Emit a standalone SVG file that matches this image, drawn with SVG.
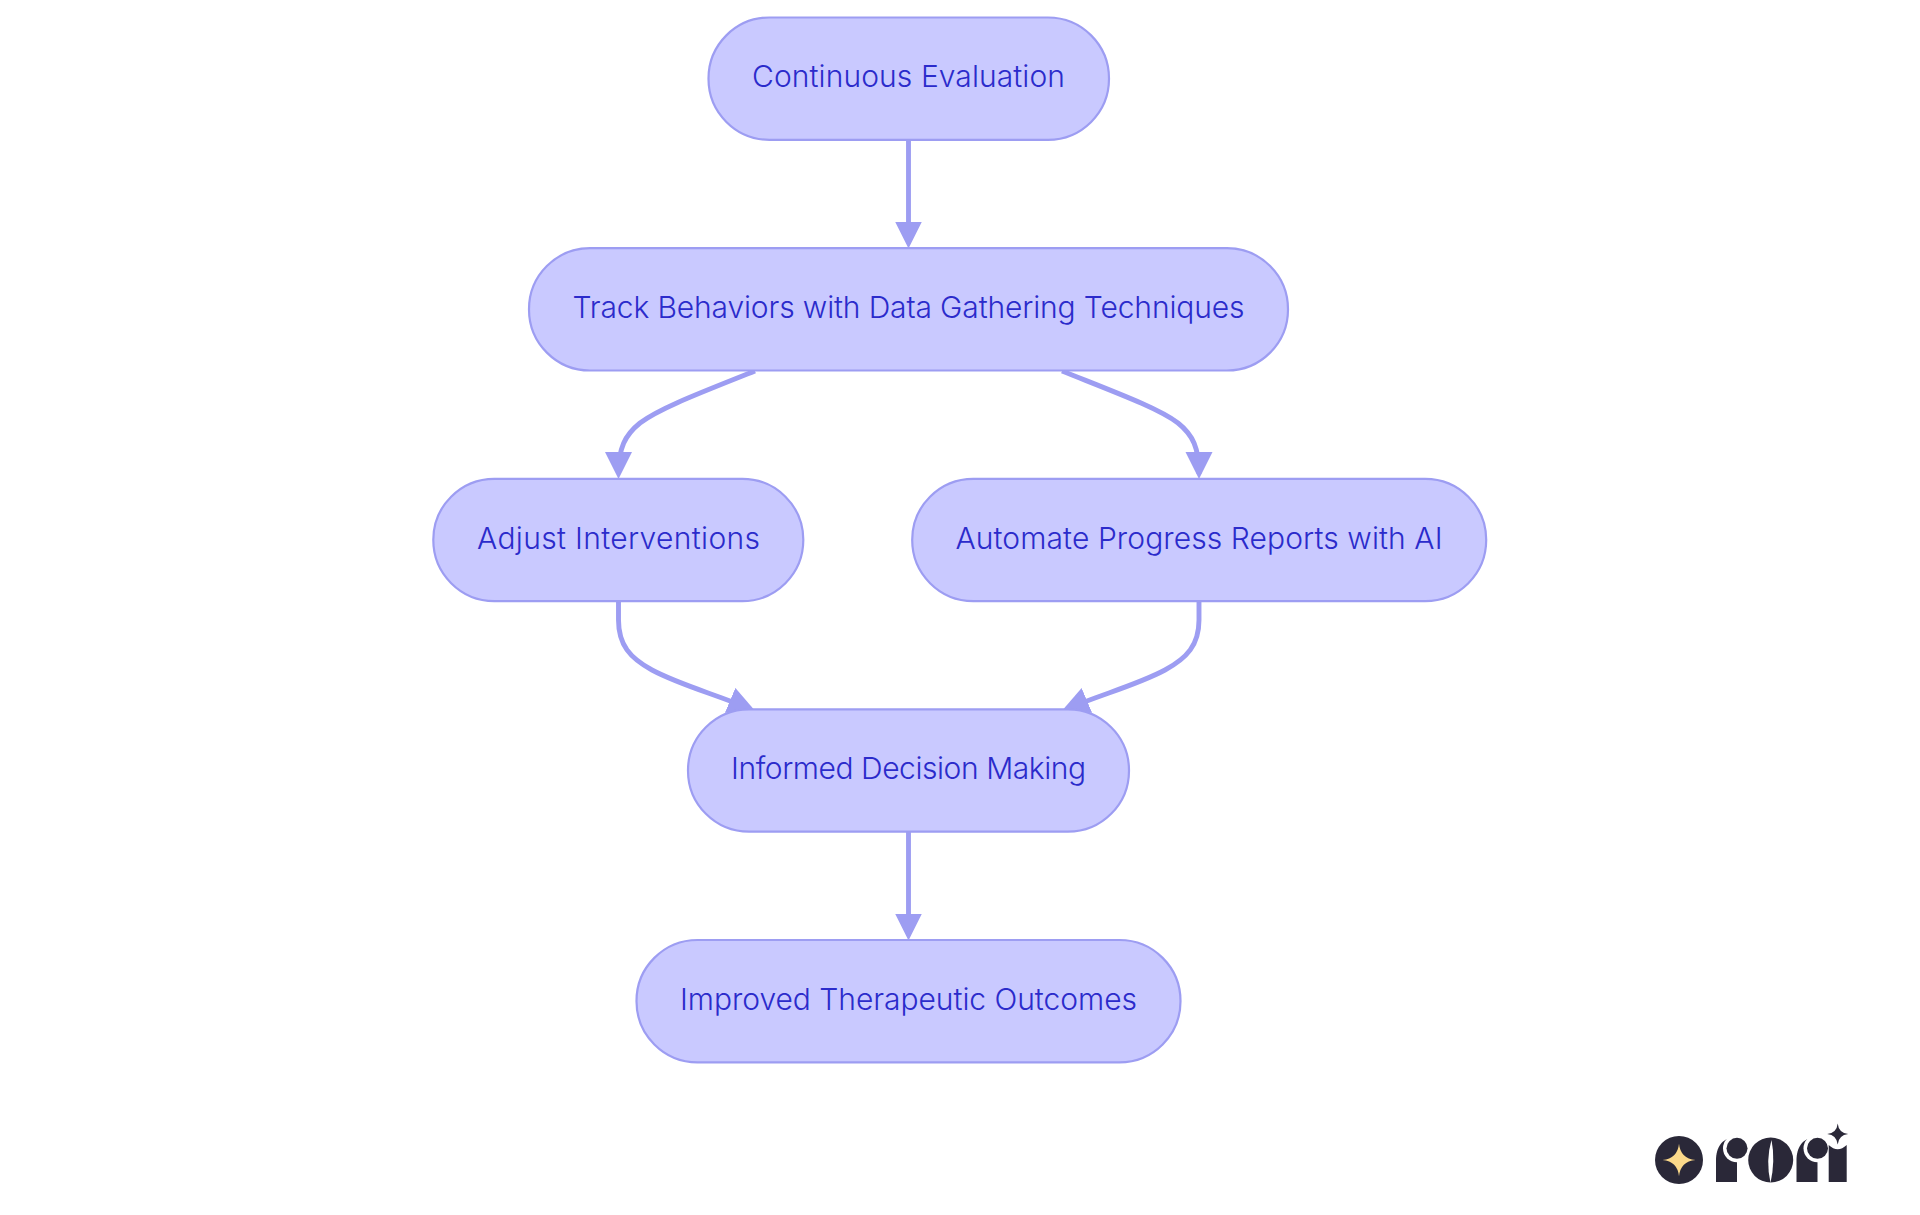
<svg xmlns="http://www.w3.org/2000/svg" width="1920" height="1215" viewBox="0 0 1920 1215">
<defs>
<style>
.n{fill:#c9c9ff;stroke:#9d9df2;stroke-width:2.2}
.t{font-family:"Inter","Noto Sans",sans-serif;font-size:30px;font-weight:300;fill:#2b2bcb;text-anchor:middle}
.e{fill:none;stroke:#9d9df2;stroke-width:4.9;marker-end:url(#ah)}
.k{fill:#2a2838}
.w{fill:#fff}
</style>
<marker id="ah" markerUnits="userSpaceOnUse" markerWidth="28" markerHeight="28" refX="22" refY="13.500" orient="auto">
<path d="M0 0L27 13.500L0 27Z" fill="#9d9df2"/>
</marker>
</defs>
<rect width="1920" height="1215" fill="#fff"/>
<g id="connectors">
<path class="e" d="M908.500 140V243.500"/>
<path class="e" d="M755 371C700 393 660 408 640 423C625 435 618.500 448 618.500 474"/>
<path class="e" d="M1062 371C1117 393 1158 408 1178 423C1193 435 1199 448 1199 474"/>
<path class="e" d="M618.500 601V620C618.500 645 630 658 652 670C680 685 715 694 750.400 708.900"/>
<path class="e" d="M1199 601V620C1199 645 1187 658 1165 670C1137 685 1102 694 1066.600 708.900"/>
<path class="e" d="M908.500 831V935.500"/>
</g>
<g id="n1"><rect class="n" x="708.500" y="17.500" width="400.500" height="122.300" rx="61" ry="61"/><text class="t" x="908.500" y="87" textLength="313">Continuous Evaluation</text></g>
<g id="n2"><rect class="n" x="529" y="248.200" width="759" height="122.300" rx="61" ry="61"/><text class="t" x="908.500" y="317.500" textLength="672">Track Behaviors with Data Gathering Techniques</text></g>
<g id="n3"><rect class="n" x="433.300" y="478.800" width="370" height="122.300" rx="61" ry="61"/><text class="t" x="618.500" y="548.500" textLength="283">Adjust Interventions</text></g>
<g id="n4"><rect class="n" x="912.200" y="478.800" width="574" height="122.300" rx="61" ry="61"/><text class="t" x="1199" y="548.500" textLength="487">Automate Progress Reports with AI</text></g>
<g id="n5"><rect class="n" x="688" y="709.400" width="441" height="122.300" rx="61" ry="61"/><text class="t" x="908.500" y="778.500" textLength="355">Informed Decision Making</text></g>
<g id="n6"><rect class="n" x="636.500" y="940" width="544" height="122.300" rx="61" ry="61"/><text class="t" x="908.500" y="1009.500" textLength="457">Improved Therapeutic Outcomes</text></g>
<g id="logo">
<circle class="k" cx="1679" cy="1160" r="24"/>
<path fill="#fbd98a" d="M1679 1143.700Q1680.500 1158.500 1695.500 1160Q1680.500 1161.500 1679 1176.300Q1677.500 1161.500 1662.500 1160Q1677.500 1158.500 1679 1143.700Z"/>
<path class="k" d="M1716 1182V1160C1716 1148 1722 1138 1733 1138H1737V1182Z"/>
<circle class="w" cx="1737" cy="1148.300" r="14"/>
<circle class="k" cx="1737" cy="1148.300" r="10.500"/>
<circle class="k" cx="1770.700" cy="1160" r="22.500"/>
<path class="w" d="M1771.500 1140Q1765.500 1160 1770.500 1183Q1775.500 1160 1771.500 1140Z"/>
<path class="k" d="M1796.500 1182V1160C1796.500 1148 1802.500 1138 1813.500 1138H1817.500V1182Z"/>
<circle class="w" cx="1817.500" cy="1148.300" r="14"/>
<circle class="k" cx="1817.500" cy="1148.300" r="10.500"/>
<path class="k" d="M1828.700 1182V1145Q1837.700 1153.500 1846.700 1145V1182Z"/>
<path class="k" d="M1837.700 1123.500Q1838.700 1133 1848.200 1134Q1838.700 1135 1837.700 1144.500Q1836.700 1135 1827.200 1134Q1836.700 1133 1837.700 1123.500Z"/>
</g>
</svg>
